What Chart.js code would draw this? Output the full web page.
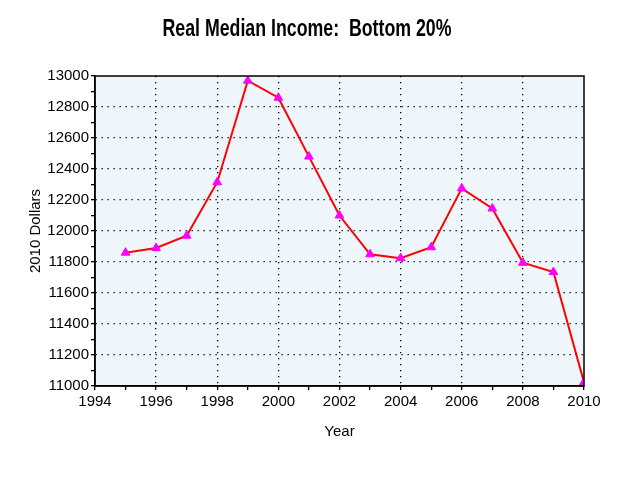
<!DOCTYPE html>
<html>
<head>
<meta charset="utf-8">
<script src="https://cdn.jsdelivr.net/npm/chart.js@4"></script>
<style>
html,body{margin:0;padding:0;background:#fff;}
#wrap{width:640px;height:480px;}
</style>
</head>
<body>
<div id="wrap"><canvas id="c" width="640" height="480"></canvas></div>
<script>
const years = [1995,1996,1997,1998,1999,2000,2001,2002,2003,2004,2005,2006,2007,2008,2009,2010];
const income = [11860,11890,11970,12315,12970,12860,12480,12100,11850,11825,11895,12275,12145,11795,11735,11025];
const titleText = 'Real Median Income:  Bottom 20%';
const xTitle = 'Year';
const yTitle = '2010 Dollars';

const plotBg = {
  id: 'plotBg',
  beforeDraw(chart) {
    const {ctx, chartArea: a} = chart;
    ctx.save();
    ctx.fillStyle = '#eef6fc';
    ctx.fillRect(a.left, a.top, a.right - a.left, a.bottom - a.top);
    ctx.restore();
  },
  afterDraw(chart) {
    const {ctx, chartArea: a} = chart;
    ctx.save();
    ctx.strokeStyle = '#000';
    ctx.lineWidth = 1.5;
    ctx.setLineDash([]);
    ctx.strokeRect(a.left, a.top, a.right - a.left, a.bottom - a.top);
    // condensed bold title
    ctx.font = 'bold 22px "Liberation Sans", Arial, sans-serif';
    ctx.fillStyle = '#000';
    ctx.textBaseline = 'middle';
    ctx.textAlign = 'center';
    const w = ctx.measureText(titleText).width;
    const sx = 289 / w;
    ctx.translate(307, 30);
    ctx.scale(sx, 1.05);
    ctx.fillText(titleText, 0, 0);
    ctx.restore();
  }
};

const tickFont = {family: '"Liberation Sans", Arial, sans-serif', size: 15};

new Chart(document.getElementById('c'), {
  type: 'line',
  data: {
    datasets: [{
      data: years.map((y, i) => ({x: y, y: income[i]})),
      borderColor: '#ff0000',
      borderWidth: 2,
      pointStyle: 'triangle',
      pointRadius: 5,
      pointBackgroundColor: '#ff00ff',
      pointBorderColor: '#ff00ff',
      pointBorderWidth: 1,
      tension: 0
    }]
  },
  options: {
    responsive: false,
    animation: false,
    devicePixelRatio: 1,
    layout: {padding: {left: 27, right: 56, top: 76, bottom: 35}},
    plugins: {
      legend: {display: false},
      tooltip: {enabled: false},
      title: {display: false}
    },
    scales: {
      x: {
        type: 'linear',
        min: 1994, max: 2010,
        afterFit(s) { s.height = 59; },
        ticks: {
          stepSize: 1,
          autoSkip: false,
          maxRotation: 0,
          color: '#000',
          font: tickFont,
          padding: 3,
          callback: v => (v % 2 === 0 ? String(v) : '')
        },
        grid: {
          drawOnChartArea: true,
          color: ctx => (ctx.tick && ctx.tick.value % 2 === 0 && ctx.tick.value > 1994 && ctx.tick.value < 2010) ? '#000' : 'rgba(0,0,0,0)',
          tickColor: '#000',
          tickLength: 4,
          lineWidth: 1.3
        },
        border: {display: true, color: '#000', width: 1.5, dash: [1.3, 4.7]},
        title: {display: true, text: xTitle, color: '#000', font: tickFont, padding: {top: 8, bottom: 4}}
      },
      y: {
        min: 11000, max: 13000,
        afterFit(s) { s.width = 95 - 27; },
        ticks: {
          stepSize: 100,
          autoSkip: false,
          color: '#000',
          font: tickFont,
          padding: 2,
          callback: v => (v % 200 === 0 ? String(v) : '')
        },
        grid: {
          color: ctx => (ctx.tick && ctx.tick.value % 200 === 0 && ctx.tick.value > 11000 && ctx.tick.value < 13000) ? '#000' : 'rgba(0,0,0,0)',
          tickColor: '#000',
          tickLength: 4,
          lineWidth: 1.3
        },
        border: {display: true, color: '#000', width: 1.5, dash: [1.3, 4.7]},
        title: {display: true, text: yTitle, color: '#000', font: tickFont, padding: {top: 0, bottom: 2}}
      }
    }
  },
  plugins: [plotBg]
});
</script>
</body>
</html>
